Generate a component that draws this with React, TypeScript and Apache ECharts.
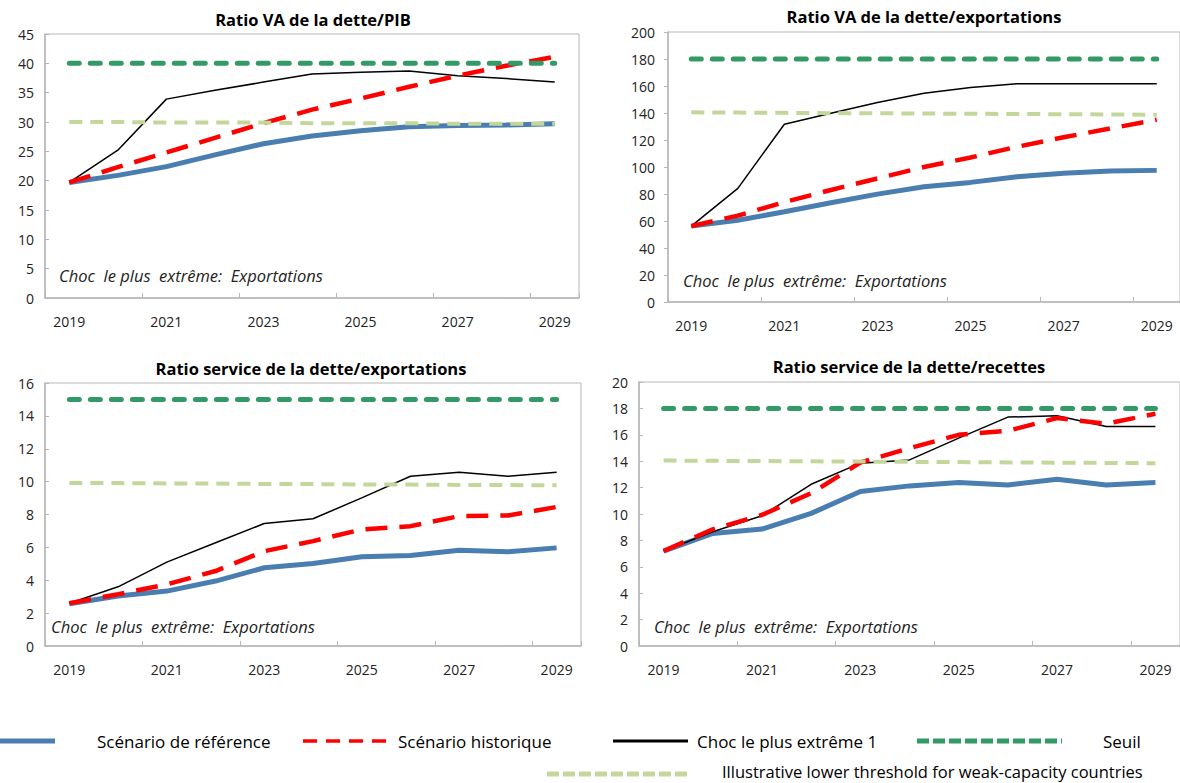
import React, { useEffect, useRef } from "react";
import * as echarts from "echarts";

const years = ["2019", "2020", "2021", "2022", "2023", "2024", "2025", "2026", "2027", "2028", "2029"];

// Chart 1: Ratio VA de la dette/PIB
const base1 = [19.7, 20.9, 22.4, 24.4, 26.3, 27.6, 28.5, 29.2, 29.4, 29.5, 29.7];
const hist1 = [19.7, 22.3, 24.8, 27.3, 29.8, 32.1, 34.0, 36.0, 37.9, 39.6, 41.1];
const shock1 = [19.7, 25.2, 33.9, 35.4, 36.8, 38.2, 38.5, 38.7, 37.9, 37.4, 36.8];
const seuil1 = [40, 40, 40, 40, 40, 40, 40, 40, 40, 40, 40];
const lower1 = [30.0, 30.0, 29.9, 29.9, 29.9, 29.8, 29.8, 29.8, 29.7, 29.7, 29.7];

// Chart 2: Ratio VA de la dette/exportations
const base2 = [56.2, 60.6, 66.8, 73.5, 79.9, 85.4, 88.6, 92.8, 95.3, 97.0, 97.5];
const hist2 = [56.2, 64.0, 74.0, 83.0, 91.5, 100.0, 107.0, 115.0, 122.0, 128.5, 135.0];
const shock2 = [56.2, 84.2, 131.7, 139.8, 147.8, 154.7, 158.9, 161.6, 161.6, 161.6, 161.6];
const seuil2 = [180, 180, 180, 180, 180, 180, 180, 180, 180, 180, 180];
const lower2 = [140.5, 140.3, 140.1, 139.9, 139.8, 139.6, 139.4, 139.3, 139.1, 138.9, 138.7];

// Chart 3: Ratio service de la dette/exportations
const base3 = [2.57, 3.04, 3.34, 3.95, 4.76, 5.02, 5.43, 5.51, 5.83, 5.73, 5.97];
const hist3 = [2.6, 3.15, 3.75, 4.56, 5.77, 6.38, 7.09, 7.29, 7.9, 7.94, 8.46];
const shock3 = [2.6, 3.6, 5.1, 6.28, 7.45, 7.74, 9.01, 10.33, 10.57, 10.33, 10.57];
const seuil3 = [15, 15, 15, 15, 15, 15, 15, 15, 15, 15, 15];
const lower3 = [9.92, 9.91, 9.89, 9.88, 9.86, 9.85, 9.83, 9.82, 9.8, 9.79, 9.78];

// Chart 4: Ratio service de la dette/recettes
const base4 = [7.19, 8.53, 8.86, 10.05, 11.7, 12.13, 12.38, 12.2, 12.63, 12.2, 12.38];
const hist4 = [7.2, 8.84, 9.93, 11.57, 13.9, 14.99, 16.0, 16.3, 17.27, 16.84, 17.6];
const shock4 = [7.2, 8.66, 9.87, 12.25, 13.85, 14.1, 15.75, 17.34, 17.44, 16.63, 16.63];
const seuil4 = [18, 18, 18, 18, 18, 18, 18, 18, 18, 18, 18];
const lower4 = [14.05, 14.03, 14.01, 13.99, 13.97, 13.95, 13.93, 13.91, 13.89, 13.87, 13.85];

const titles = [
  "Ratio VA de la dette/PIB",
  "Ratio VA de la dette/exportations",
  "Ratio service de la dette/exportations",
  "Ratio service de la dette/recettes",
];
const annotation = "Choc  le plus  extrême:  Exportations";
const yMax = [45, 200, 16, 20];
const yStep = [5, 20, 2, 2];

const legendNames = [
  "Scénario de référence",
  "Scénario historique",
  "Choc le plus extrême 1",
  "Seuil",
  "Illustrative lower threshold for weak-capacity countries",
];

const BLUE = "#4a7eb0";
const RED = "#ff0000";
const BLACK = "#000000";
const GREEN = "#339966";
const LIGHT = "#c4d79b";
const AXIS = "#b7b7b7";
const FONT = "'Open Sans', 'Noto Sans', sans-serif";

const grids = [
  { left: 45, top: 34, width: 534, height: 264 },
  { left: 668, top: 32, width: 513, height: 270 },
  { left: 45, top: 383, width: 536, height: 263 },
  { left: 639, top: 382, width: 542, height: 264 },
];
const titlePos = [
  { x: 313, y: 19 },
  { x: 924, y: 16 },
  { x: 311, y: 368 },
  { x: 909, y: 366 },
];
const notePos = [
  { x: 59, y: 275 },
  { x: 683, y: 280 },
  { x: 51, y: 626 },
  { x: 654, y: 626 },
];

export default function App() {
  const ref = useRef<HTMLDivElement>(null);
  useEffect(() => {
    if (!ref.current) return;
    const chart = echarts.init(ref.current, null, { renderer: "svg" });
    const data = [
      [base1, hist1, shock1, seuil1, lower1],
      [base2, hist2, shock2, seuil2, lower2],
      [base3, hist3, shock3, seuil3, lower3],
      [base4, hist4, shock4, seuil4, lower4],
    ];
    const series: any[] = [];
    data.forEach((set, gi) => {
      const [b, h, s, se, lo] = set;
      const common = { type: "line", xAxisIndex: gi, yAxisIndex: gi, showSymbol: false, symbol: "none", silent: true };
      series.push({ ...common, name: legendNames[0], data: b, z: 2, lineStyle: { color: BLUE, width: 5 } });
      series.push({ ...common, name: legendNames[2], data: s, z: 3, lineStyle: { color: BLACK, width: 1.5 } });
      series.push({ ...common, name: legendNames[1], data: h, z: 4, lineStyle: { color: RED, width: 4.5, type: [22, 12] } });
      series.push({ ...common, name: legendNames[3], data: se, z: 5, lineStyle: { color: GREEN, width: 5, type: [10, 11], cap: "round" } });
      series.push({ ...common, name: legendNames[4], data: lo, z: 5, lineStyle: { color: LIGHT, width: 4, type: [13, 8] } });
    });

    const graphic: any[] = [];
    titles.forEach((t, i) => {
      graphic.push({
        type: "text",
        x: titlePos[i].x,
        y: titlePos[i].y,
        style: { text: t, font: `bold 16.5px ${FONT}`, fill: "#000", align: "center", verticalAlign: "middle" },
      });
      graphic.push({
        type: "text",
        x: notePos[i].x,
        y: notePos[i].y,
        style: { text: annotation, font: `italic 16.5px ${FONT}`, fill: "#222", align: "left", verticalAlign: "middle" },
      });
    });
    // legend
    const r1 = 741;
    const r2 = 774;
    graphic.push({ type: "line", shape: { x1: 0, y1: r1, x2: 55, y2: r1 }, style: { stroke: BLUE, lineWidth: 5 } });
    graphic.push({ type: "line", shape: { x1: 303, y1: r1, x2: 387, y2: r1 }, style: { stroke: RED, lineWidth: 3.5, lineDash: [14, 9] } });
    graphic.push({ type: "line", shape: { x1: 613, y1: r1, x2: 688, y2: r1 }, style: { stroke: BLACK, lineWidth: 3 } });
    graphic.push({ type: "line", shape: { x1: 917, y1: r1, x2: 1062, y2: r1 }, style: { stroke: GREEN, lineWidth: 5, lineDash: [12, 4] } });
    graphic.push({ type: "line", shape: { x1: 547, y1: r2, x2: 688, y2: r2 }, style: { stroke: LIGHT, lineWidth: 5, lineDash: [12, 4] } });
    const legText = [
      { x: 97, y: r1, t: legendNames[0], s: 17 },
      { x: 398, y: r1, t: legendNames[1], s: 17 },
      { x: 697, y: r1, t: legendNames[2], s: 17 },
      { x: 1103, y: r1, t: legendNames[3], s: 17 },
      { x: 722, y: 771, t: legendNames[4], s: 16.5 },
    ];
    legText.forEach((l) => {
      graphic.push({
        type: "text",
        x: l.x,
        y: l.y,
        style: { text: l.t, font: `${l.s}px ${FONT}`, fill: "#000", align: "left", verticalAlign: "middle" },
      });
    });

    chart.setOption({
      animation: false,
      backgroundColor: "#ffffff",
      textStyle: { fontFamily: FONT },
      grid: grids.map((g) => ({ ...g, show: true, borderColor: AXIS, borderWidth: 1, backgroundColor: "transparent", containLabel: false })),
      xAxis: grids.map((_, i) => ({
        type: "category",
        gridIndex: i,
        data: years,
        boundaryGap: true,
        axisLine: { show: true, lineStyle: { color: AXIS, width: 1.5 } },
        axisTick: { show: true, inside: true, interval: 1, length: 5, lineStyle: { color: AXIS } },
        axisLabel: { interval: 1, color: "#222", fontSize: 14, fontFamily: FONT, margin: 16 },
        splitLine: { show: false },
      })),
      yAxis: grids.map((_, i) => ({
        type: "value",
        gridIndex: i,
        min: 0,
        max: yMax[i],
        interval: yStep[i],
        axisLine: { show: true, lineStyle: { color: AXIS, width: 1.5 } },
        axisTick: { show: true, inside: i !== 1, length: 4, lineStyle: { color: AXIS } },
        axisLabel: { color: "#222", fontSize: 14, fontFamily: FONT, margin: i === 1 ? 13 : 11 },
        splitLine: { show: false },
      })),
      series,
      graphic,
    });
    return () => chart.dispose();
  }, []);
  return (
    <div
      ref={ref}
      style={{ position: "absolute", left: 0, top: 0, width: 1180, height: 783, background: "#fff" }}
    />
  );
}
